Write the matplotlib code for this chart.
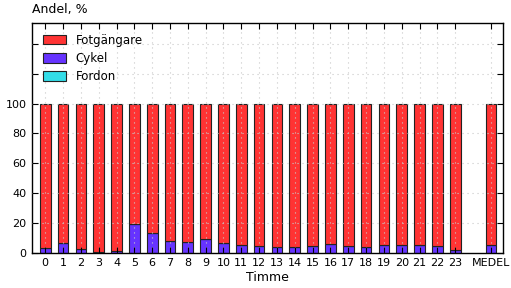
import matplotlib
matplotlib.use('Agg')
import matplotlib.pyplot as plt
import numpy as np

labels = [str(h) for h in range(24)] + ['MEDEL']
cykel = [3.5, 6.5, 2.8, 0.3, 1.5, 19.5, 13.5, 7.8, 7.3, 9.2, 6.3, 5.0,
         4.8, 4.0, 4.0, 4.8, 5.8, 4.8, 4.0, 5.0, 5.0, 5.0, 4.5, 2.0, 5.0]
fordon = [0.0] * 25
fotg = [100 - c - f for c, f in zip(cykel, fordon)]

x = np.array(list(range(24)) + [25])
cykel = np.array(cykel)
fordon = np.array(fordon)
fotg = np.array(fotg)

fig = plt.figure(figsize=(5.11, 2.88), dpi=100)
ax = fig.add_axes([0.063, 0.122, 0.921, 0.798])

w = 0.6
ax.bar(x, cykel, w, color='#6633ff', edgecolor='#222222', linewidth=0.8, label='Cykel')
ax.bar(x, fordon, w, bottom=cykel, color='#33dde8', edgecolor='#222222', linewidth=0.8, label='Fordon')
ax.bar(x, fotg, w, bottom=cykel + fordon, color='#ff3333', edgecolor='#222222', linewidth=0.8, label='Fotgängare')

ax.set_xlim(-0.73, 25.67)
ax.set_ylim(0, 154)
ax.set_yticks(range(0, 160, 20))
ax.set_yticklabels([str(v) if v <= 100 else '' for v in range(0, 160, 20)])
ax.set_xticks(x)
ax.set_xticklabels(labels)
ax.tick_params(direction='in', top=True, right=True, labelsize=8, length=4, pad=4)
ax.grid(True, color='#c8c8c8', linestyle=(0, (1, 3.5)), linewidth=0.8)
ax.set_axisbelow(False)
for s in ax.spines.values():
    s.set_linewidth(1.0)

h, l = ax.get_legend_handles_labels()
ax.legend([h[2], h[0], h[1]], [l[2], l[0], l[1]], loc='upper left', frameon=False,
          fontsize=8.5, handlelength=2.0, handleheight=0.9, labelspacing=0.45)

ax.text(0.0, 1.03, 'Andel, %', transform=ax.transAxes, fontsize=9, ha='left', va='bottom')
ax.set_xlabel('Timme', fontsize=9, labelpad=2)

fig.savefig('out.png', dpi=100)
